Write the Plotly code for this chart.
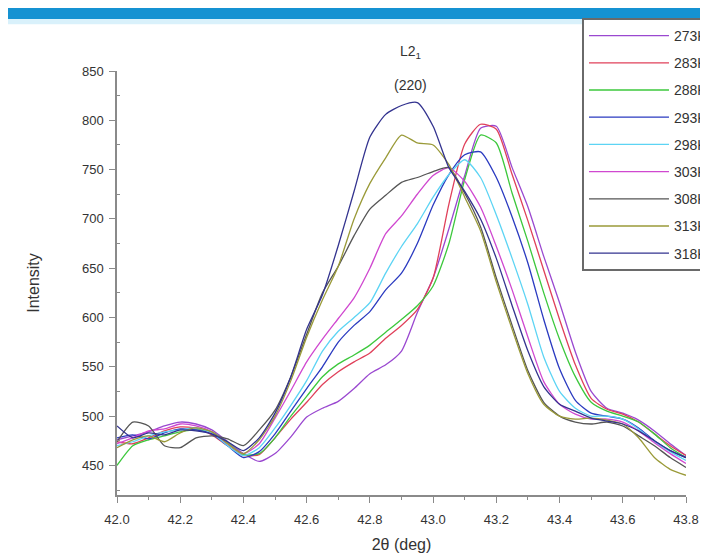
import plotly.graph_objects as go

two_theta = [42.00, 42.05, 42.10, 42.15, 42.20, 42.25, 42.30, 42.35, 42.40, 42.45,
             42.50, 42.55, 42.60, 42.65, 42.70, 42.75, 42.80, 42.85, 42.90, 42.95,
             43.00, 43.05, 43.10, 43.15, 43.20, 43.25, 43.30, 43.35, 43.40, 43.45,
             43.50, 43.55, 43.60, 43.65, 43.70, 43.75, 43.80]

series_names = ["273K", "283K", "288K", "293K", "298K", "303K", "308K", "313K", "318K"]

i_273 = [476, 480, 484, 490, 494, 492, 486, 474, 462, 454, 462, 479, 499, 508, 515, 528, 543, 552, 566,
         605, 640, 690, 744, 792, 794, 752, 712, 662, 615, 565, 525, 508, 503, 496, 485, 472, 460]
i_283 = [474, 472, 478, 485, 489, 488, 481, 470, 460, 461, 478, 497, 514, 532, 545, 555, 564, 579, 592,
         608, 640, 715, 776, 796, 791, 745, 698, 648, 598, 552, 518, 507, 502, 494, 482, 470, 460]
i_288 = [450, 470, 476, 480, 484, 486, 484, 473, 461, 462, 478, 500, 520, 540, 553, 562, 572, 585, 598,
         612, 632, 675, 740, 785, 777, 726, 677, 625, 578, 540, 514, 505, 500, 494, 482, 468, 458]
i_293 = [478, 481, 477, 483, 487, 486, 482, 470, 458, 464, 482, 505, 528, 550, 575, 592, 606, 628, 645,
         675, 714, 745, 765, 768, 742, 702, 655, 598, 548, 516, 503, 500, 497, 488, 475, 465, 458]
i_298 = [470, 474, 480, 484, 486, 488, 483, 470, 460, 468, 488, 511, 536, 566, 586, 600, 615, 645, 672,
         695, 722, 745, 760, 742, 704, 660, 613, 560, 525, 508, 500, 500, 497, 487, 474, 464, 455]
i_303 = [472, 478, 485, 487, 492, 490, 484, 472, 462, 472, 498, 526, 555, 578, 599, 620, 650, 685, 703,
         725, 744, 752, 738, 712, 672, 628, 580, 535, 512, 502, 497, 497, 494, 485, 473, 462, 452]
i_308 = [474, 494, 490, 470, 468, 478, 480, 477, 470, 486, 506, 540, 583, 625, 652, 683, 710, 724, 737,
         742, 748, 752, 726, 692, 640, 592, 546, 514, 500, 494, 492, 494, 490, 480, 470, 458, 448]
i_313 = [468, 476, 480, 474, 483, 488, 484, 472, 462, 476, 500, 536, 580, 618, 652, 700, 736, 762, 785,
         777, 775, 755, 722, 688, 636, 588, 543, 512, 500, 497, 498, 496, 492, 478, 458, 446, 440]
i_318 = [490, 478, 483, 481, 486, 485, 482, 474, 465, 478, 503, 540, 588, 623, 673, 728, 783, 806, 815,
         818, 794, 752, 728, 700, 660, 612, 566, 530, 512, 505, 498, 495, 492, 485, 475, 465, 458]

series_values = [i_273, i_283, i_288, i_293, i_298, i_303, i_308, i_313, i_318]
series_colors = ["#9a48d0", "#e0405a", "#3cc83c", "#2a3ac0", "#5cd4f4",
                 "#d048d0", "#555555", "#9a9a38", "#33338f"]

x_ticks = [42.0, 42.2, 42.4, 42.6, 42.8, 43.0, 43.2, 43.4, 43.6, 43.8]
y_ticks = [450, 500, 550, 600, 650, 700, 750, 800, 850]

FONT = "Liberation Sans, Arial, sans-serif"
TXT = "#333333"
AX = "#8a8a8a"

fig = go.Figure()
for name, vals, col in zip(series_names, series_values, series_colors):
    fig.add_trace(go.Scatter(
        x=two_theta, y=vals, mode="lines", name=name, legendgroup=name,
        line=dict(color=col, width=1.3, shape="spline", smoothing=0.6),
    ))

fig.update_layout(
    width=708, height=556,
    margin=dict(l=109, r=30, t=63, b=69, autoexpand=False),
    paper_bgcolor="white", plot_bgcolor="white",
    font=dict(family=FONT, size=13, color=TXT),
    showlegend=True,
    legend=dict(
        x=0.8172, y=1.125, xanchor="left", yanchor="top",
        bgcolor="white", bordercolor="#6a6a6a", borderwidth=2,
        font=dict(family=FONT, size=14, color=TXT),
        itemwidth=80, tracegroupgap=6,
    ),
    xaxis=dict(
        range=[42.0, 43.8], tickvals=x_ticks, ticktext=[f"{v:.1f}" for v in x_ticks],
        showline=True, linecolor=AX, linewidth=1.5, mirror=False,
        ticks="outside", ticklen=6, tickwidth=1.2, tickcolor=AX,
        tickfont=dict(family=FONT, size=13, color=TXT), ticklabelstandoff=6,
        showgrid=False, zeroline=False,
        minor=dict(tickmode="linear", tick0=42.1, dtick=0.2, ticks="outside",
                   ticklen=3, tickcolor=AX, showgrid=False),
        title=dict(text="2θ (deg)", font=dict(family=FONT, size=16, color=TXT), standoff=12),
    ),
    yaxis=dict(
        range=[420, 850], tickvals=y_ticks,
        showline=True, linecolor=AX, linewidth=1.5,
        ticks="outside", ticklen=6, tickwidth=1.2, tickcolor=AX,
        tickfont=dict(family=FONT, size=13, color=TXT), ticklabelstandoff=3,
        showgrid=False, zeroline=False,
        minor=dict(tickmode="linear", tick0=425, dtick=50, ticks="inside",
                   ticklen=3, tickcolor=AX, showgrid=False),
        title=dict(text="Intensity", font=dict(family=FONT, size=16, color=TXT), standoff=38),
    ),
    annotations=[
        dict(text="L2<sub>1</sub>", x=42.927, xref="x", y=1.045, yref="paper",
             xanchor="center", yanchor="middle",
             showarrow=False, font=dict(family=FONT, size=14, color=TXT)),
        dict(text="(220)", x=42.927, xref="x", y=0.967, yref="paper",
             xanchor="center", yanchor="middle",
             showarrow=False, font=dict(family=FONT, size=14, color=TXT)),
    ],
    shapes=[
        dict(type="rect", xref="paper", yref="paper", x0=-0.2, x1=1.06,
             y0=1.1226, y1=1.15, fillcolor="#1592d2", line=dict(width=0), layer="above"),
        dict(type="rect", xref="paper", yref="paper", x0=-0.2, x1=1.06,
             y0=1.110, y1=1.1226, fillcolor="#d9f1fb", line=dict(width=0), layer="above"),
    ],
)

fig.write_html("out.html")
